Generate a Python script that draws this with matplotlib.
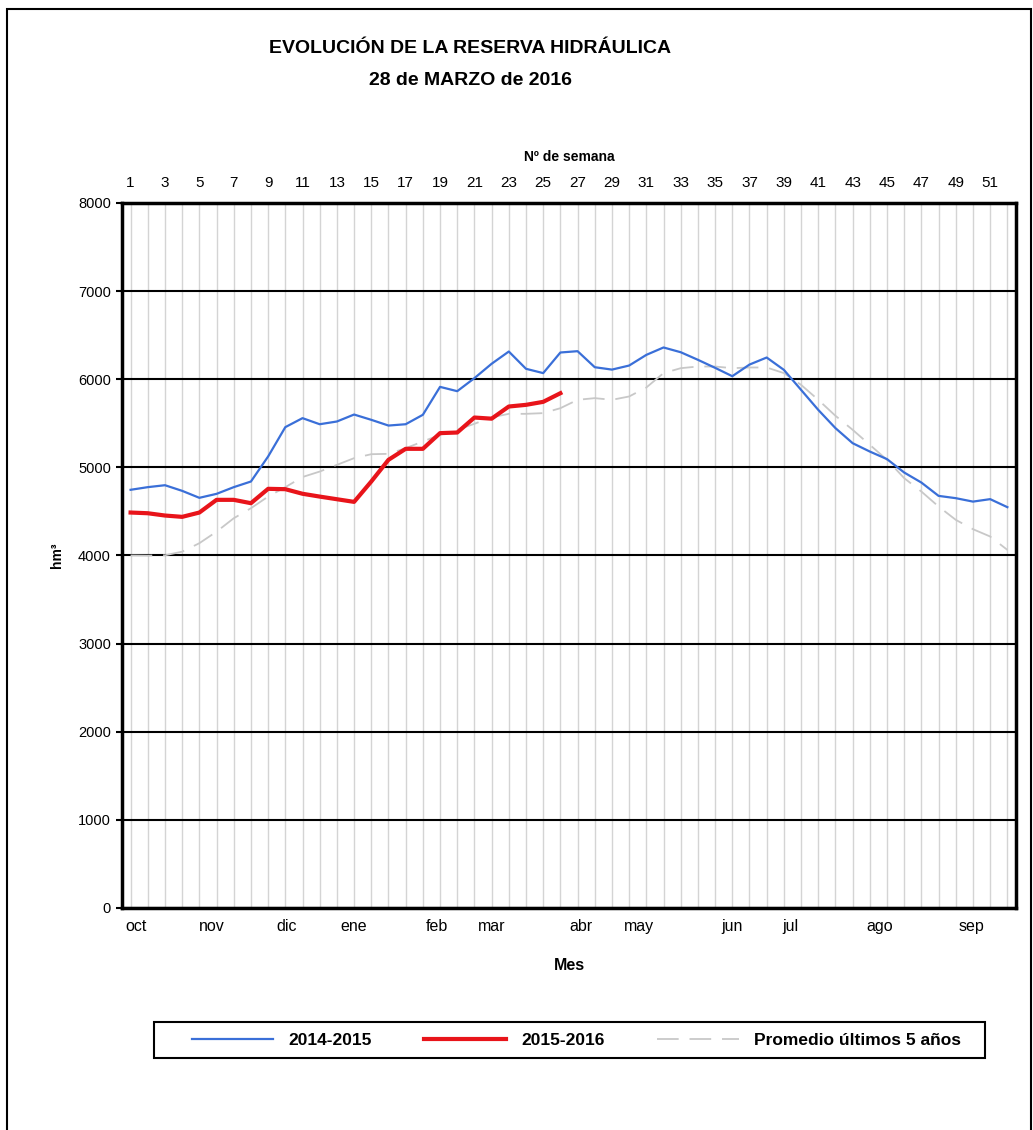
import numpy as np
import matplotlib.pyplot as plt
from matplotlib.patches import Rectangle

plt.rcParams['font.family'] = ['Liberation Sans', 'DejaVu Sans']

# Reserva hidráulica semanal (hm³)
semanas = np.arange(1, 53)
r_2014_2015 = [4745, 4775, 4797, 4733, 4654, 4699, 4775, 4839, 5123, 5456,
               5558, 5489, 5520, 5599, 5539, 5474, 5489, 5596, 5913, 5864,
               6012, 6175, 6314, 6118, 6069, 6303, 6318, 6136, 6109, 6155,
               6276, 6360, 6306, 6220, 6129, 6034, 6166, 6246, 6106, 5879,
               5652, 5445, 5274, 5179, 5093, 4941, 4827, 4676, 4650, 4611,
               4639, 4548]
r_2015_2016 = [4487, 4479, 4453, 4438, 4487, 4631, 4631, 4593, 4756, 4752,
               4700, 4668, 4638, 4608, 4839, 5085, 5210, 5210, 5388, 5395,
               5565, 5552, 5690, 5709, 5743, 5841]
promedio_5 = [4000, 3998, 4002, 4043, 4139, 4270, 4422, 4536, 4668, 4775,
              4890, 4952, 5028, 5104, 5149, 5153, 5217, 5293, 5369, 5426,
              5494, 5567, 5607, 5607, 5615, 5671, 5766, 5785, 5766, 5804,
              5906, 6069, 6125, 6144, 6144, 6125, 6133, 6133, 6069, 5936,
              5766, 5585, 5426, 5255, 5085, 4877, 4725, 4555, 4404, 4298,
              4215, 4063]

meses = ["oct", "nov", "dic", "ene", "feb", "mar", "abr", "may", "jun", "jul", "ago", "sep"]
meses_semana = [1.3, 5.7, 10.1, 14.0, 18.8, 22.0, 27.2, 30.6, 36.0, 39.4, 44.6, 49.9]

fig = plt.figure(figsize=(10.33, 11.3), dpi=100)
ax = fig.add_axes([0.1181, 0.1965, 0.8654, 0.6239])

ax.plot(semanas, promedio_5, color='#c8c8c8', linewidth=1.3, dashes=(12, 6),
        label="Promedio últimos 5 años", zorder=3)
ax.plot(semanas, r_2014_2015, color='#3a6fd8', linewidth=1.6, label="2014-2015", zorder=4)
ax.plot(semanas[:len(r_2015_2016)], r_2015_2016, color='#e8141a', linewidth=3,
        label="2015-2016", zorder=5)

ax.set_xlim(0.5, 52.5)
ax.set_ylim(0, 8000)
ax.set_yticks(np.arange(0, 8001, 1000))
ax.grid(True, axis='y', color='black', linewidth=1.5, zorder=1)
ax.set_xticks(semanas, minor=True)
ax.set_xticks(semanas[::2])
ax.set_xticklabels([str(s) for s in semanas[::2]], fontsize=11)
ax.grid(True, axis='x', which='both', color='#d4d4d4', linewidth=1, zorder=1)
ax.xaxis.tick_top()
ax.tick_params(axis='x', which='both', length=0, pad=9)
ax.tick_params(axis='y', length=4, width=1.5, labelsize=10.5, pad=4)
for sp in ax.spines.values():
    sp.set_linewidth(2.5)
ax.set_axisbelow(True)

ax.text(0.5, 1.065, "Nº de semana", transform=ax.transAxes, ha='center', va='center',
        fontsize=10, fontweight='bold')
ax.set_ylabel("hm³", fontsize=10, fontweight='bold', labelpad=10)

sec = ax.secondary_xaxis('bottom')
sec.set_xticks(meses_semana)
sec.set_xticklabels(meses, fontsize=11.5)
sec.tick_params(length=0, pad=8)
sec.spines['bottom'].set_visible(False)
ax.text(0.5, -0.082, "Mes", transform=ax.transAxes, ha='center', va='center',
        fontsize=11.5, fontweight='bold')

fig.text(0.455, 0.957, "EVOLUCIÓN DE LA RESERVA HIDRÁULICA", ha='center', va='center',
         fontsize=14, fontweight='bold')
fig.text(0.455, 0.929, "28 de MARZO de 2016", ha='center', va='center',
         fontsize=14, fontweight='bold')

h, l = ax.get_legend_handles_labels()
order = [1, 2, 0]
fig.legend([h[i] for i in order], [l[i] for i in order], loc='center',
           bbox_to_anchor=(0.558, 0.0796), ncol=3, frameon=False,
           prop={'weight': 'bold', 'size': 12.5}, handlelength=4.7, columnspacing=3.0,
           handletextpad=0.9)
fig.patches.append(Rectangle((0.149, 0.0637), 0.805, 0.0319, transform=fig.transFigure,
                             fill=False, edgecolor='black', linewidth=1.5))

fig.patches.append(Rectangle((0.007, -0.05), 0.991, 1.042, transform=fig.transFigure,
                             fill=False, edgecolor='black', linewidth=1.5))

fig.savefig("out.png", dpi=100)
